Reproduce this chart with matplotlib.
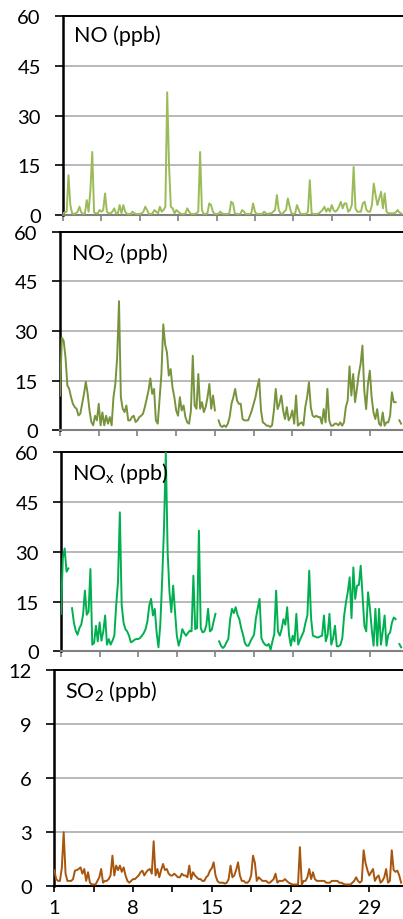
import numpy as np
import matplotlib
matplotlib.use('Agg')
from matplotlib import pyplot as plt
from matplotlib.ticker import FixedLocator

plt.rcParams['font.family'] = ['Lato', 'DejaVu Sans']
plt.rcParams['mathtext.fontset'] = 'custom'
plt.rcParams['mathtext.rm'] = 'Lato'

nan = np.nan

# 4-hourly values, 6 per day, days 1..31
no = [0.5, 0.8, 1.0, 12.0, 3.0, 0.5,  0.3, 0.5, 1.0, 2.5, 0.8, 0.3,
      0.5, 4.5, 1.0, 7.5, 19.0, 0.8,  0.5, 0.5, 1.5, 1.0, 1.5, 6.5,
      1.0, 0.5, 0.5, 1.0, 2.0, 0.5,  0.5, 3.0, 0.5, 3.0, 1.0, 0.3,
      0.3, 0.3, 1.0, 0.5, 0.3, 0.3,  0.3, 0.5, 1.0, 2.5, 1.5, 0.3,
      0.3, 0.5, 1.5, 1.0, 0.5, 2.5,  1.0, 1.5, 2.5, 37.0, 15.0, 2.5,
      2.0, 0.5, 1.5, 1.0, 0.5, 0.3,  0.3, 0.5, 2.0, 1.0, 0.3, 0.3,
      0.3, 0.5, 1.0, 19.0, 1.5, 0.3,  0.3, 0.5, 3.5, 3.0, 1.0, 0.3,
      0.3, 0.3, 1.0, 0.5, 0.3, 0.3,  0.3, 0.5, 4.0, 3.5, 0.5, 0.3,
      0.3, 0.3, 1.5, 1.0, 0.3, 0.3,  0.3, 0.5, 3.5, 1.0, 0.3, 0.3,
      0.3, 0.3, 1.0, 0.5, 0.3, 0.5,  0.5, 1.0, 1.5, 6.0, 1.5, 0.5,
      0.3, 1.0, 1.5, 5.0, 2.5, 0.5,  0.3, 0.5, 3.0, 1.5, 0.3, 0.3,
      0.3, 0.3, 1.0, 10.5, 0.5, 0.3,  0.3, 0.3, 0.5, 1.0, 1.5, 2.5,
      1.0, 2.0, 1.0, 3.0, 1.5, 1.0,  1.5, 2.5, 4.0, 2.0, 3.5, 3.5,
      1.0, 1.5, 3.0, 14.5, 2.0, 1.0,  1.0, 1.0, 3.5, 4.0, 1.5, 1.0,
      1.0, 3.0, 9.5, 6.0, 3.0, 5.0,  7.0, 2.0, 6.5, 1.0, 0.5, 0.5,
      0.5, 0.5, 0.8, 1.5, 0.8, 0.5]

no2 = [10.5, 28, 27, 22, 13.5, 12.5,  10, 8, 7, 6.5, 4.5, 5,
       8, 11, 14.7, 11, 6, 2.5,  1.5, 4.4, 3, 8, 1.5, 5.4,
       1.5, 4.4, 2, 4, 1.5, 10,  14, 22, 39, 10, 6.5, 5.5,
       7.5, 3, 3, 4, 4.4, 2.5,  3, 4, 4.4, 5, 7, 9.5,
       12, 15.7, 11, 12.5, 3, 2,  9.5, 17, 32, 26, 23.5, 16.5,
       18.5, 13, 10, 6, 4.4, 10,  6, 7.5, 4, 2.4, 2, 6,
       22.5, 7.5, 6.5, 17, 6.5, 8.5,  5.5, 7, 10, 14, 6.5, 10.5,
       6, nan, 3, 1.4, 1, 1.5,  1, 2, 4, 8, 10, 12.5,
       9, 8, 8, 3.4, 3, 3,  3, 4.4, 6, 8, 10, 13,
       15.5, 6, 2.4, 2, 1.4, 1.4,  1, 1.5, 6, 12.5, 6.4, 8,
       10.5, 6, 3.4, 7, 3, 4,  6, 2, 10.5, 1.4, 2, 2.4,
       1.5, 7, 10, 14.5, 7, 4.4,  4, 4.4, 4, 4, 2, 6.4,
       2.4, 12.5, 3, 1.4, 1.4, 2,  2, 1.5, 2.4, 1.4, 2.4, 7,
       9, 19.3, 10.5, 17, 8.5, 12.5,  17, 20, 25.6, 12, 6.4, 14,
       18, 10, 5.4, 3.4, 6.4, 2,  1.4, 5.4, 1.4, 2.4, 2.4, 4.4,
       11.5, 8.5, 8.5, nan, 3, 2]

nox = [11.3, 28, 31, 24, 25, nan,  13, 8.7, 6.2, 5, 7, 8,
       11, 18.3, 11, 12, 24.8, 2,  2.5, 7.7, 3, 8.7, 3.2, 6,
       10.8, 2, 3.7, 2, 3.2, 4.7,  13.8, 21, 41.9, 14, 8.7, 6.7,
       6, 4.7, 2.7, 3, 3.5, 3.7,  3.7, 4, 4.7, 5.5, 6.7, 9,
       13.8, 15.8, 10.8, 12.8, 5.7, 1.2,  8, 21.3, 37, 60, 30, 17.8,
       11.8, 19.8, 12, 4.7, 1.7, 3.7,  6.7, 5.5, 4.7, 5.5, 6.2, 6,
       22.8, 6.7, 7, 36.4, 7, 5.7,  6, 7.7, 12.8, 6, 6.5, 9,
       11.3, nan, 3, 1.7, 1, 1.5,  2.7, 3.7, 9.7, 12.8, 11.5, 13.3,
       11, 9.7, 7, 5, 2.5, 1.7,  1.7, 3, 4, 5, 10, 13,
       15.8, 4, 2.7, 2, 1.7, 2.2,  0.5, 3, 5.2, 18.3, 6, 4.7,
       6.7, 9.7, 8, 13.3, 5, 1.7,  4.7, 3, 11.3, 2, 3.5, 4.7,
       6, 8.7, 10.8, 24.3, 10, 4.7,  4.5, 4.2, 4.2, 4.5, 4.7, 10.8,
       3, 5, 11.3, 2, 4, 7.7,  1.5, 1.5, 2, 4, 10.8, 14.8,
       18, 22.3, 10, 25.3, 15.8, 19.8,  20, 25.8, 16.8, 7.7, 6, 17.8,
       13, 6.7, 1.7, 12.8, 1.7, 12.8,  2, 6, 10.8, 1.7, 5, 5.7,
       8.7, 10.2, 9.7, nan, 2.2, 1.2]

so2 = [0.9, 0.4, 0.3, 0.3, 1.0, 3.0,  0.7, 0.3, 0.3, 0.3, 0.4, 0.87,
       0.9, 0.96, 1.05, 0.7, 0.96, 0.3,  0.78, 0.2, 0.1, 0.1, 0.1, 0.3,
       0.5, 0.96, 0.2, 0.3, 0.3, 0.4,  0.6, 1.7, 0.6, 1.15, 0.9, 1.15,
       0.8, 1.05, 0.6, 0.3, 0.2, 0.3,  0.4, 0.4, 0.5, 0.6, 0.78, 0.87,
       0.6, 0.78, 0.9, 0.96, 0.7, 2.5,  0.6, 0.96, 0.5, 0.9, 1.24, 0.9,
       0.96, 0.7, 0.6, 0.6, 0.7, 0.6,  0.5, 0.5, 0.7, 0.6, 0.6, 0.5,
       1.15, 0.4, 0.78, 0.6, 0.5, 0.4,  0.4, 0.3, 0.3, 0.5, 0.6, 0.87,
       1.0, 1.33, 0.6, 0.3, 0.2, 0.2,  0.2, 0.15, 0.2, 0.4, 1.15, 0.5,
       0.6, 0.9, 1.33, 0.6, 0.3, 0.3,  0.2, 0.2, 0.3, 0.6, 1.7, 1.3,
       0.3, 0.5, 0.4, 0.3, 0.3, 0.3,  0.2, 0.2, 0.3, 0.4, 0.7, 0.2,
       0.3, 0.3, 0.3, 0.4, 0.3, 0.2,  0.15, 0.1, 0.1, 0.1, 0.1, 2.17,
       0.1, 0.3, 0.3, 0.5, 0.96, 0.4,  0.78, 0.4, 0.3, 0.3, 0.3, 0.3,
       0.3, 0.2, 0.2, 0.2, 0.3, 0.3,  0.3, 0.3, 0.2, 0.2, 0.15, 0.1,
       0.1, 0.1, 0.1, 0.2, 0.3, 0.5,  0.3, 0.2, 0.3, 2.0, 1.3, 0.9,
       0.6, 0.78, 0.96, 0.3, 0.5, 0.6,  0.2, 0.3, 0.5, 0.96, 0.2, 0.3,
       2.0, 0.9, 0.8, 0.87, 0.6, 0.2]

days = 1 + np.arange(len(no)) / 6

panels = [
    (no, '#9BBB59', 'NO (ppb)', [0, 15, 30, 45, 60], 63, 17, 216),
    (no2, '#77933C', r'NO$_{\mathregular{2}}$ (ppb)', [0, 15, 30, 45, 60], 60, 232.7, 431.3),
    (nox, '#00B050', r'NO$_{\mathregular{x}}$ (ppb)', [0, 15, 30, 45, 60], 61, 453.3, 652.3),
    (so2, '#A8560E', r'SO$_{\mathregular{2}}$ (ppb)', [0, 3, 6, 9, 12], 54.3, 671, 887.3),
]

W, H = 403, 920
fig = plt.figure(figsize=(W / 100, H / 100), dpi=100)

for i, (vals, col, title, yt, left, top, bot) in enumerate(panels):
    last = i == len(panels) - 1
    ax = fig.add_axes([left / W, 1 - bot / H, (W - left) / W, (bot - top) / H])
    ax.plot(days, vals, color=col, lw=1.4, zorder=3)
    ax.set_xlim(1, 32)
    ax.set_ylim(yt[0], yt[-1])
    ax.set_yticks(yt)
    ax.yaxis.grid(True, color='#A6A6A6', lw=1.1)
    ax.set_axisbelow(True)

    ax.spines['right'].set_visible(False)
    ax.spines['top'].set_color('black')
    ax.spines['top'].set_linewidth(1.4)
    ax.spines['left'].set_color('black')
    ax.spines['left'].set_linewidth(1.8)
    bcol = 'black' if last else '#808080'
    ax.spines['bottom'].set_color(bcol)
    ax.spines['bottom'].set_linewidth(1.5)

    ax.xaxis.set_major_locator(FixedLocator([1, 8, 15, 22, 29]))
    ax.xaxis.set_minor_locator(FixedLocator([4.5, 11.5, 18.5, 25.5]))
    ax.tick_params(axis='x', which='both', direction='out', length=4,
                   width=1.2, color=bcol, labelsize=14.5, pad=5,
                   labelbottom=last)
    ax.tick_params(axis='y', direction='out', length=6, width=1.2,
                   color='black', labelsize=14.5, pad=10)

    ax.text(11 / (W - left), 1 - 8 / (bot - top), title,
            transform=ax.transAxes, ha='left', va='top', fontsize=15.5)

fig.savefig('out.png', dpi=100)
